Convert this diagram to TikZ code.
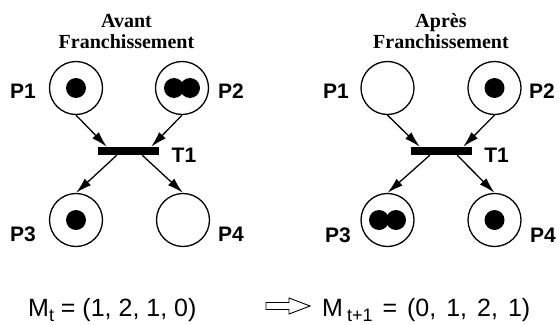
\documentclass[tikz,border=0pt]{standalone}
\usepackage{fontspec}
\setmainfont{Liberation Serif}
\setsansfont{Liberation Sans}
\usetikzlibrary{arrows.meta,calc}
\tikzset{
  place/.style={circle,draw,line width=1.3pt,minimum size=53pt,inner sep=0pt},
  trans/.style={rectangle,fill=black,minimum width=61pt,minimum height=8pt,inner sep=0pt},
  lab/.style={font=\sffamily\bfseries\fontsize{21}{21}\selectfont,inner sep=0pt},
  ttl/.style={font=\bfseries\fontsize{20}{21}\selectfont,align=center,inner sep=0pt},
  arc/.style={line width=1.3pt,-{Latex[length=16pt,width=9pt]}},
  eq/.style={font=\sffamily\fontsize{25}{25}\selectfont,inner sep=0pt,anchor=base west},
  tok/.style={fill=black},
}
\newcommand\mysub[1]{\raisebox{-5pt}{\fontsize{18}{18}\selectfont #1}}
\begin{document}
\begin{tikzpicture}[x=1pt,y=-1pt]
\useasboundingbox (0,0) rectangle (559,324);
% ---------- left : Avant ----------
\node[ttl] (ta) at (126.5,31) {Avant\\Franchissement};
\node[place] (a1) at (76,88) {};
\node[place] (a2) at (182,88) {};
\node[place] (a3) at (76,220) {};
\node[place] (a4) at (183,220) {};
\node[trans] (at) at (128.5,151) {};
\node[lab] (a1l) at (23,91) {P1};
\node[lab] (a2l) at (231,91) {P2};
\node[lab] (a3l) at (23,234) {P3};
\node[lab] (a4l) at (231,234) {P4};
\node[lab] (atl) at (184,155) {T1};
\fill[tok] (a1.center) circle (10pt);
\fill[tok] ([xshift=-8pt]a2.center) circle (10pt);
\fill[tok] ([xshift=8pt]a2.center) circle (10pt);
\fill[tok] (a3.center) circle (10pt);
\draw[arc] (a1.south) -- ([xshift=9pt]at.north west);
\draw[arc] (a2.south) -- ([xshift=-8pt]at.north east);
\draw[arc] ([xshift=19pt]at.south west) -- (a3.north);
\draw[arc] ([xshift=-17pt]at.south east) -- (a4.north);
% ---------- right : Apres ----------
\node[ttl] (tb) at (441,31) {Après\\Franchissement};
\node[place] (b1) at (387.5,88) {};
\node[place] (b2) at (494.5,88) {};
\node[place] (b3) at (387.5,220) {};
\node[place] (b4) at (494.5,220) {};
\node[trans] (bt) at (441.5,151) {};
\node[lab] (b1l) at (336,91) {P1};
\node[lab] (b2l) at (542,91) {P2};
\node[lab] (b3l) at (338,235) {P3};
\node[lab] (b4l) at (543,235) {P4};
\node[lab] (btl) at (496.5,155) {T1};
\fill[tok] (b2.center) circle (10pt);
\fill[tok] ([xshift=-8.5pt]b3.center) circle (10pt);
\fill[tok] ([xshift=8.5pt]b3.center) circle (10pt);
\fill[tok] (b4.center) circle (10pt);
\draw[arc] (b1.south) -- ([xshift=9pt]bt.north west);
\draw[arc] (b2.south) -- ([xshift=-9pt]bt.north east);
\draw[arc] ([xshift=19pt]bt.south west) -- (b3.north);
\draw[arc] ([xshift=-15pt]bt.south east) -- (b4.north);
% ---------- equations ----------
\node[eq] (m1) at (28,316) {M\mysub{t} = (1, 2, 1, 0)};
\node[eq] (m2) at (322,316) {\spaceskip=10pt M\hspace{4pt}\mysub{t+1} = (0, 1, 2, 1)};
\coordinate (bs) at (266,306);
\coordinate (be) at (310,306);
\draw[line width=0.9pt,line join=miter]
  ($(bs)+(0,-3.5)$) -- ($(bs)+(23,-3.5)$) -- ($(bs)+(23,-8)$) -- (be)
  -- ($(bs)+(23,8)$) -- ($(bs)+(23,3.5)$) -- ($(bs)+(0,3.5)$) -- cycle;
\end{tikzpicture}
\end{document}
